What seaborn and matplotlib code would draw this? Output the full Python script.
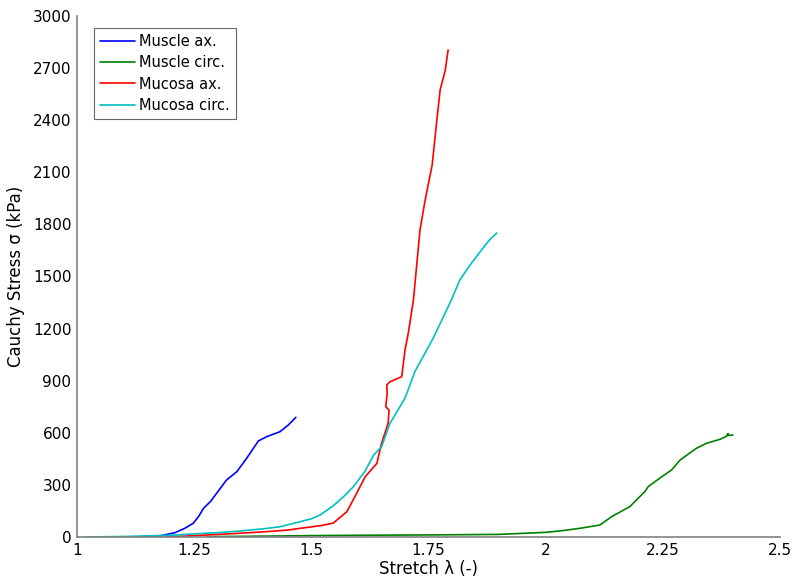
import numpy as np
import pandas as pd
import matplotlib
matplotlib.use("Agg")
import matplotlib.pyplot as plt
import seaborn as sns

muscle_ax_x = [1.03, 1.10, 1.15, 1.18, 1.209, 1.230, 1.248, 1.260, 1.270, 1.285, 1.298, 1.319, 1.341, 1.362, 1.387, 1.405, 1.433, 1.451, 1.467]
muscle_ax_y = [0, 0, 2, 8, 25, 50, 79, 120, 165, 205, 252, 328, 376, 453, 553, 578, 606, 645, 689]

muscle_circ_x = [1.277, 1.40, 1.50, 1.60, 1.75, 1.90, 2.002, 2.040, 2.073, 2.116, 2.141, 2.180, 2.201, 2.212, 2.219, 2.248, 2.269, 2.287, 2.322, 2.344, 2.372, 2.386, 2.390, 2.388, 2.400]
muscle_circ_y = [2, 5, 8, 10, 12, 15, 27, 38, 50, 69, 117, 175, 232, 261, 290, 347, 386, 443, 511, 540, 562, 580, 595, 585, 587]

mucosa_ax_x = [1.19, 1.25, 1.30, 1.35, 1.40, 1.45, 1.476, 1.50, 1.525, 1.547, 1.576, 1.593, 1.615, 1.640, 1.650, 1.664, 1.666, 1.659, 1.662, 1.661, 1.668, 1.693, 1.700, 1.707, 1.718, 1.732, 1.743, 1.758, 1.768, 1.775, 1.786, 1.792]
mucosa_ax_y = [0, 8, 15, 22, 30, 40, 50, 58, 68, 80, 146, 232, 347, 424, 540, 655, 731, 750, 827, 875, 894, 923, 1077, 1173, 1365, 1768, 1940, 2142, 2401, 2574, 2689, 2804]

mucosa_circ_x = [1.02, 1.10, 1.20, 1.25, 1.30, 1.35, 1.40, 1.433, 1.476, 1.50, 1.519, 1.547, 1.570, 1.590, 1.615, 1.633, 1.650, 1.668, 1.700, 1.721, 1.760, 1.799, 1.817, 1.840, 1.860, 1.880, 1.896]
mucosa_circ_y = [0, 3, 10, 18, 25, 35, 48, 59, 88, 105, 127, 180, 235, 290, 380, 472, 520, 655, 799, 952, 1144, 1365, 1480, 1570, 1641, 1710, 1750]

series_names = ["Muscle ax.", "Muscle circ.", "Mucosa ax.", "Mucosa circ."]
colors = ["#0000FF", "#008000", "#FF0000", "#00BFBF"]

xticks = [1, 1.25, 1.5, 1.75, 2, 2.25, 2.5]
xticklabels = ["1", "1.25", "1.5", "1.75", "2", "2.25", "2.5"]
yticks = [0, 300, 600, 900, 1200, 1500, 1800, 2100, 2400, 2700, 3000]

frames = []
for name, xs, ys in zip(series_names,
                        [muscle_ax_x, muscle_circ_x, mucosa_ax_x, mucosa_circ_x],
                        [muscle_ax_y, muscle_circ_y, mucosa_ax_y, mucosa_circ_y]):
    frames.append(pd.DataFrame({"x": xs, "y": ys, "series": name}))
df = pd.concat(frames, ignore_index=True)

sns.set_style("white")
plt.rcParams['font.family'] = ['DejaVu Sans']
plt.rcParams['text.color'] = 'black'
plt.rcParams['axes.labelcolor'] = 'black'
plt.rcParams['xtick.color'] = 'black'
plt.rcParams['ytick.color'] = 'black'

fig = plt.figure(figsize=(7.95, 5.83), dpi=100)
ax = fig.add_axes([0.0969, 0.0789, 0.884, 0.8937])

sns.lineplot(data=df, x="x", y="y", hue="series", hue_order=series_names,
             palette=colors, sort=False, estimator=None, units="series",
             linewidth=1.2, ax=ax)

ax.set_xlim(1, 2.5)
ax.set_ylim(0, 3000)
ax.set_xticks(xticks)
ax.set_xticklabels(xticklabels)
ax.set_yticks(yticks)
for s in ["top", "right"]:
    ax.spines[s].set_visible(False)
for s in ["left", "bottom"]:
    ax.spines[s].set_color("#808080")
    ax.spines[s].set_linewidth(1.2)
ax.tick_params(direction="in", length=5, width=1, color="#808080",
               labelcolor="black", labelsize=11, pad=4)
ax.set_xlabel("Stretch λ (-)", fontsize=12, labelpad=2, color="black")
ax.set_ylabel("Cauchy Stress σ (kPa)", fontsize=12, labelpad=6, color="black")

leg = ax.legend(loc="upper left", bbox_to_anchor=(0.024, 0.976), fontsize=10.5,
                frameon=True, fancybox=False, handlelength=2.4, handletextpad=0.3,
                borderpad=0.4, labelspacing=0.42, borderaxespad=0)
leg.get_frame().set_edgecolor("#404040")
leg.get_frame().set_linewidth(0.8)
for t in leg.get_texts():
    t.set_color("black")

fig.savefig("out.png", dpi=100)
